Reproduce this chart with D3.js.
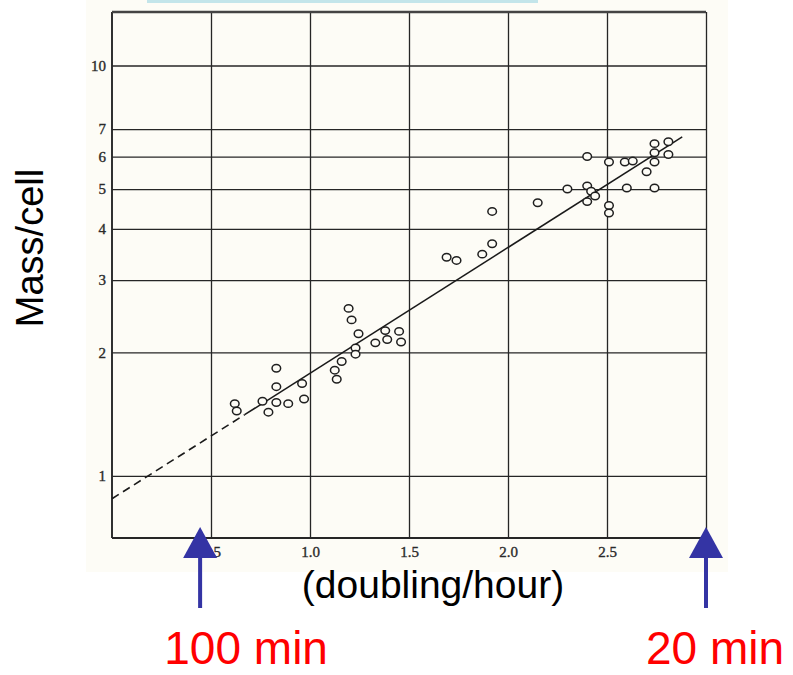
<!DOCTYPE html>
<html>
<head>
<meta charset="utf-8">
<script src="https://cdn.jsdelivr.net/npm/d3@7"></script>
<style>
  body { margin: 0; background: #fff; }
  svg { display: block; }
</style>
</head>
<body>
<svg id="chart" width="793" height="675"></svg>
<script>
// Mass per cell against growth rate (doublings per hour), log scale on y
const growthRate = [
  0.62, 0.63, 0.76, 0.79, 0.83, 0.83, 0.83, 0.89, 0.96, 0.97,
  1.125, 1.135, 1.16, 1.195, 1.21, 1.245, 1.23, 1.23, 1.33, 1.38,
  1.39, 1.45, 1.46, 1.69, 1.74, 1.87, 1.92, 1.92, 2.15, 2.30,
  2.40, 2.40, 2.42, 2.44, 2.40, 2.51, 2.51, 2.51, 2.59, 2.63,
  2.60, 2.74, 2.70, 2.74, 2.74, 2.74, 2.81, 2.81
];
const massPerCell = [
  1.50, 1.44, 1.52, 1.43, 1.51, 1.65, 1.83, 1.50, 1.68, 1.54,
  1.81, 1.72, 1.90, 2.56, 2.40, 2.22, 2.05, 1.98, 2.11, 2.26,
  2.15, 2.25, 2.12, 3.41, 3.35, 3.47, 3.68, 4.41, 4.63, 5.00,
  6.00, 5.09, 4.94, 4.81, 4.66, 5.82, 4.56, 4.37, 5.82, 5.85,
  5.03, 5.03, 5.51, 5.82, 6.13, 6.45, 6.52, 6.07
];

// Regression line: extrapolated (dashed) part, then fitted part
const fitRate = [0, 0.67, 2.88];
const fitMass = [0.88, 1.41, 6.7];

const yTickValues = [1, 2, 3, 4, 5, 6, 7, 10];
const yTickLabels = ["1", "2", "3", "4", "5", "6", "7", "10"];
const xTickValues = [0.5, 1.0, 1.5, 2.0, 2.5, 3.0];
const xTickLabels = ["0.5", "1.0", "1.5", "2.0", "2.5", "3.0"];

// Generation-time markers under the axis
const markerRates = [0.445, 3.0];
const markerLabels = ["100 min", "20 min"];

const xTitle = "(doubling/hour)";
const yTitle = "Mass/cell";

// ---- layout ----
const plot = { left: 112, right: 706, top: 12, bottom: 538 };
const paper = "#fdfcf6";
const ink = "#262626";

const svg = d3.select("#chart");

const x = d3.scaleLinear().domain([0, 3]).range([plot.left, plot.right]);
const y = d3.scaleLog().domain([0.706, 13.5]).range([plot.bottom, plot.top]);

// paper background of the printed graph
svg.append("rect").attr("x", 86).attr("y", 0).attr("width", 642).attr("height", 572)
  .attr("fill", paper);
svg.append("rect").attr("x", 147).attr("y", 0).attr("width", 391).attr("height", 3)
  .attr("fill", "#c3e5ea");

const tickFont = "'Liberation Serif', 'DejaVu Serif', serif";

// horizontal grid + y labels
const yAxis = d3.axisLeft(y)
  .tickValues(yTickValues)
  .tickFormat((d, i) => yTickLabels[i])
  .tickSize(-(plot.right - plot.left))
  .tickPadding(6);
const gy = svg.append("g").attr("transform", `translate(${plot.left},0)`).call(yAxis);
gy.select(".domain").remove();
gy.selectAll(".tick line").attr("stroke", ink).attr("stroke-width", 1.3);
gy.selectAll(".tick text")
  .attr("font-family", tickFont).attr("font-size", 15)
  .attr("fill", "#2a2a2a").attr("stroke", "#2a2a2a").attr("stroke-width", 0.35);

// vertical grid + x labels
const xAxis = d3.axisBottom(x)
  .tickValues(xTickValues)
  .tickFormat((d, i) => xTickLabels[i])
  .tickSize(-(plot.bottom - plot.top))
  .tickPadding(8);
const gx = svg.append("g").attr("transform", `translate(0,${plot.bottom})`).call(xAxis);
gx.select(".domain").remove();
gx.selectAll(".tick line").attr("stroke", ink).attr("stroke-width", 1.3);
gx.selectAll(".tick text")
  .attr("font-family", tickFont).attr("font-size", 15)
  .attr("fill", "#2a2a2a").attr("stroke", "#2a2a2a").attr("stroke-width", 0.35);

// frame: heavier left, bottom and top rules
svg.append("line").attr("x1", plot.left).attr("x2", plot.left)
  .attr("y1", plot.top).attr("y2", plot.bottom)
  .attr("stroke", ink).attr("stroke-width", 1.9);
svg.append("line").attr("x1", plot.left).attr("x2", plot.right)
  .attr("y1", plot.bottom).attr("y2", plot.bottom)
  .attr("stroke", ink).attr("stroke-width", 1.9);
svg.append("line").attr("x1", plot.left).attr("x2", plot.right)
  .attr("y1", plot.top).attr("y2", plot.top)
  .attr("stroke", "#444").attr("stroke-width", 2.4);

// regression line
const fit = fitRate.map((r, i) => ({ r, m: fitMass[i] }));
const line = d3.line().x(d => x(d.r)).y(d => y(d.m));
svg.append("path").datum(fit.slice(0, 2)).attr("d", line)
  .attr("fill", "none").attr("stroke", "#1a1a1a").attr("stroke-width", 1.6)
  .attr("stroke-dasharray", "8,5");
svg.append("path").datum(fit.slice(1)).attr("d", line)
  .attr("fill", "none").attr("stroke", "#1a1a1a").attr("stroke-width", 1.5);

// measurements: open circles
const pts = growthRate.map((r, i) => ({ r, m: massPerCell[i] }));
svg.append("g").selectAll("ellipse").data(pts).join("ellipse")
  .attr("cx", d => x(d.r)).attr("cy", d => y(d.m))
  .attr("rx", 4.3).attr("ry", 3.7)
  .attr("fill", paper).attr("stroke", "#1f1f1f").attr("stroke-width", 1.5);

// axis titles
svg.append("text")
  .attr("transform", "translate(43,248) rotate(-90)")
  .attr("text-anchor", "middle")
  .attr("font-family", "'Liberation Sans', Arial, sans-serif")
  .attr("font-size", 38).attr("fill", "#000")
  .text(yTitle);
svg.append("text")
  .attr("x", 433).attr("y", 598)
  .attr("text-anchor", "middle")
  .attr("font-family", "'Liberation Sans', Arial, sans-serif")
  .attr("font-size", 39).attr("fill", "#000")
  .text(xTitle);

// generation-time arrows and labels
const arrowBlue = "#3434a4";
const labelShift = [46, 9];
const markers = svg.append("g");
markerRates.forEach((r, i) => {
  const cx = x(r);
  markers.append("rect").attr("x", cx - 2).attr("y", 555).attr("width", 4).attr("height", 53)
    .attr("fill", arrowBlue);
  markers.append("path")
    .attr("d", `M${cx},527 L${cx + 17},558 L${cx - 17},558 Z`)
    .attr("fill", arrowBlue);
  markers.append("text")
    .attr("x", cx + labelShift[i]).attr("y", 664)
    .attr("text-anchor", "middle")
    .attr("font-family", "'Liberation Sans', Arial, sans-serif")
    .attr("font-size", 46).attr("fill", "#ff0000")
    .text(markerLabels[i]);
});
</script>
</body>
</html>
